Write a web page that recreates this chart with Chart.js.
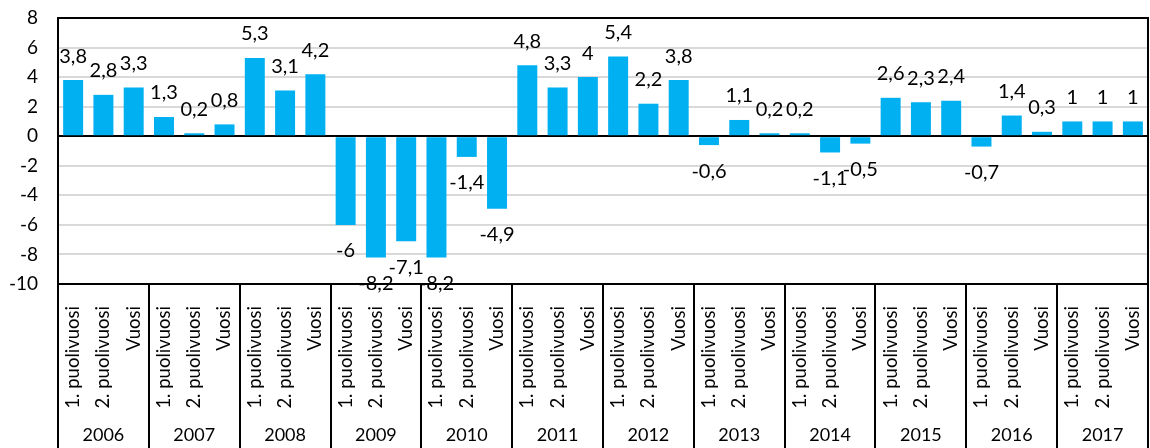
<!DOCTYPE html>
<html>
<head>
<meta charset="utf-8">
<script src="https://cdn.jsdelivr.net/npm/chart.js@4"></script>
<style>
  html, body { margin: 0; padding: 0; background: #fff; }
  #wrap { width: 1150px; height: 448px; }
</style>
</head>
<body>
<div id="wrap"><canvas id="myChart"></canvas></div>
<script>
var years = ["2006","2007","2008","2009","2010","2011","2012","2013","2014","2015","2016","2017"];
var periods = ["1. puolivuosi","2. puolivuosi","Vuosi"];
var values = [
  3.8, 2.8, 3.3,
  1.3, 0.2, 0.8,
  5.3, 3.1, 4.2,
  -6, -8.2, -7.1,
  -8.2, -1.4, -4.9,
  4.8, 3.3, 4,
  5.4, 2.2, 3.8,
  -0.6, 1.1, 0.2,
  0.2, -1.1, -0.5,
  2.6, 2.3, 2.4,
  -0.7, 1.4, 0.3,
  1, 1, 1
];
var yTicks = [-10, -8, -6, -4, -2, 0, 2, 4, 6, 8];

var labels = [];
years.forEach(function (y) {
  periods.forEach(function (p) { labels.push(p); });
});

var FONT = "Lato";

// value labels, frame and group separators
var extras = {
  id: "extras",
  afterDatasetsDraw: function (chart) {
    var ctx = chart.ctx;
    var meta = chart.getDatasetMeta(0);
    ctx.save();
    ctx.font = "20px " + FONT;
    ctx.fillStyle = "#000";
    ctx.textAlign = "center";
    ctx.textBaseline = "middle";
    meta.data.forEach(function (bar, i) {
      var v = values[i];
      var txt = String(v).replace(".", ",");
      var y = v >= 0 ? bar.y - 24 : bar.y + 26;
      ctx.fillText(txt, bar.x, y);
    });
    ctx.restore();
  },
  afterDraw: function (chart) {
    var ctx = chart.ctx;
    var a = chart.chartArea;
    var xs = chart.scales.x;
    var half = (xs.getPixelForValue(1) - xs.getPixelForValue(0)) / 2;
    ctx.save();
    ctx.strokeStyle = "#000";
    ctx.lineWidth = 2;
    ctx.strokeRect(a.left, a.top, a.right - a.left, a.bottom - a.top);
    for (var g = 0; g <= years.length; g++) {
      var x = Math.round(xs.getPixelForValue(g * 3) - half);
      ctx.beginPath();
      ctx.moveTo(x, a.bottom);
      ctx.lineTo(x, chart.height);
      ctx.stroke();
    }
    ctx.restore();
  }
};

new Chart("myChart", {
  type: "bar",
  data: {
    labels: labels,
    datasets: [{
      data: values,
      backgroundColor: "#00b0f0",
      categoryPercentage: 1,
      barPercentage: 0.66
    }]
  },
  options: {
    responsive: true,
    maintainAspectRatio: false,
    animation: false,
    layout: { padding: { top: 18, right: 2, left: 0, bottom: 0 } },
    plugins: {
      legend: { display: false },
      tooltip: { enabled: false }
    },
    scales: {
      y: {
        min: -10,
        max: 8,
        afterBuildTicks: function (s) {
          s.ticks = yTicks.map(function (v) { return { value: v }; });
        },
        afterFit: function (s) {
          s.width = 58;
          s.paddingTop = 0;
          s.paddingBottom = 0;
        },
        border: { display: false },
        grid: {
          drawTicks: false,
          lineWidth: 2,
          color: function (c) {
            return c.tick && c.tick.value === 0 ? "#000" : "#d9d9d9";
          }
        },
        ticks: {
          padding: 20,
          color: "#000",
          font: { family: FONT, size: 19 }
        }
      },
      x: {
        afterFit: function (s) {
          s.height = 130;
          s.paddingLeft = 0;
          s.paddingRight = 0;
        },
        border: { display: false },
        grid: { display: false },
        ticks: {
          autoSkip: false,
          minRotation: 90,
          maxRotation: 90,
          padding: 14,
          color: "#000",
          font: { family: FONT, size: 18.5 }
        }
      },
      x2: {
        type: "category",
        labels: years,
        position: "bottom",
        offset: true,
        afterFit: function (s) {
          s.height = 34;
          s.paddingLeft = 0;
          s.paddingRight = 0;
        },
        border: { display: false },
        grid: { display: false },
        ticks: {
          padding: 2,
          color: "#000",
          font: { family: FONT, size: 18 }
        }
      }
    }
  },
  plugins: [extras]
});
</script>
</body>
</html>
